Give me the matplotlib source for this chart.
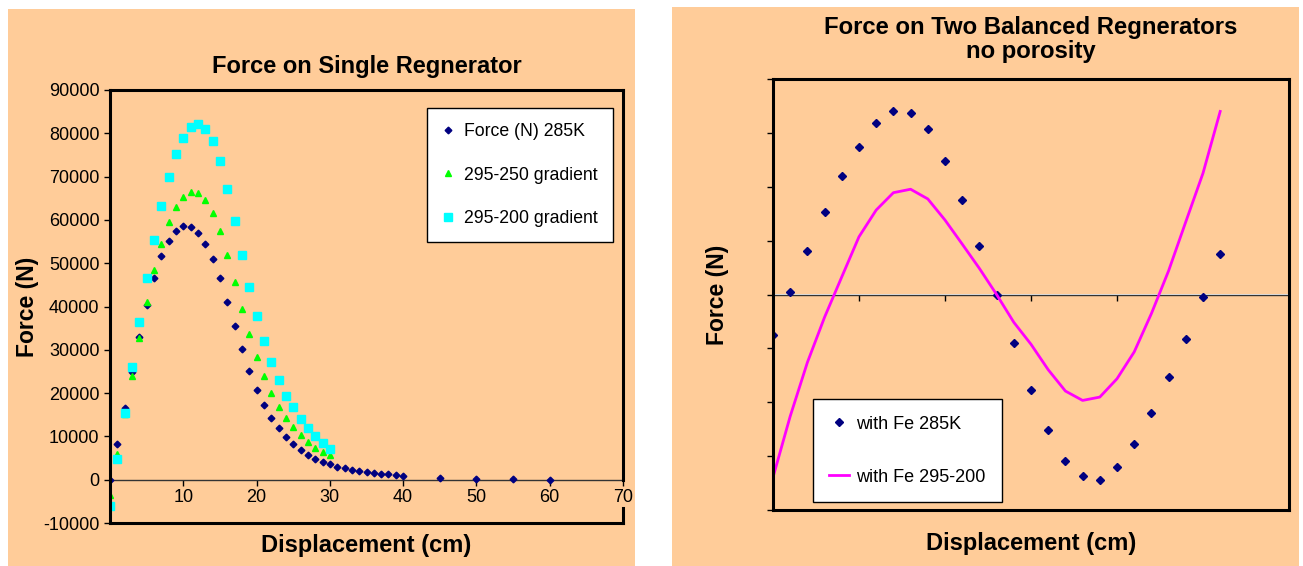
import numpy as np
import matplotlib
matplotlib.use("Agg")
from matplotlib import pyplot as plt
from matplotlib.patches import Rectangle
from matplotlib import transforms

plt.rcParams['font.family'] = ['Liberation Sans', 'DejaVu Sans']
plt.rcParams['axes.unicode_minus'] = False

#-------------left chart: single regenerator-------------
x_285 = list(range(0, 41)) + [45, 50, 55, 60]
f_285 = [0, 8200, 16600, 24900, 32900, 40300, 46600, 51600, 55200, 57500,
         58500, 58400, 57000, 54500, 51000, 46500, 41100, 35500, 30100, 25100,
         20800, 17250, 14300, 11900, 9860, 8170, 6860, 5700, 4850, 4160,
         3630, 3000, 2630, 2310, 2000, 1780, 1620, 1390, 1250, 1090,
         850, 390, 90, 90, 0]

x_grad = list(range(0, 31))
f_250 = [-3500, 5900, 15200, 24000, 32800, 41000, 48400, 54500, 59400, 63000,
         65400, 66500, 66100, 64600, 61600, 57400, 52000, 45700, 39500, 33700,
         28300, 23900, 20000, 16900, 14250, 12100, 10250, 8640, 7400, 6330,
         5630]
f_200 = [-6100, 4850, 15500, 26100, 36500, 46600, 55400, 63200, 70000, 75200,
         78900, 81500, 82100, 81000, 78300, 73700, 67200, 59800, 52000, 44600,
         37900, 32100, 27250, 23000, 19300, 16900, 14100, 12000, 10100, 8550,
         7160]

#-------------right chart: two balanced regenerators-------------
x_two = list(range(0, 53, 2))
f_fe285 = [-3790, 240, 4030, 7630, 11000, 13670, 15900, 17050, 16840, 15380,
           12430, 8740, 4470, 0, -4530, -8840, -12620, -15410, -16870, -17240,
           -15970, -13830, -11040, -7690, -4090, -190, 3720]
f_fe200 = [-16970, -11300, -6300, -2100, 1640, 5360, 7840, 9450, 9770, 8870,
           6910, 4680, 2420, 0, -2580, -4620, -6980, -8960, -9830, -9520,
           -7820, -5330, -1770, 2200, 6750, 11260, 16990]

BG = '#FFCC99'
W, H = 1303, 566
fig = plt.figure(figsize=(W / 100, H / 100), dpi=100)
fig.patch.set_facecolor('white')

# orange chart areas
fig.patches.append(Rectangle((8 / W, 0), 627 / W, 1 - 9 / H, transform=fig.transFigure,
                             facecolor=BG, edgecolor='none', zorder=-10))
fig.patches.append(Rectangle((672 / W, 0), 627 / W, 1 - 7 / H, transform=fig.transFigure,
                             facecolor=BG, edgecolor='none', zorder=-10))

FS = 13
BIG = 17

#------------left plot------------
ax1 = fig.add_axes([110 / W, 1 - 523 / H, 513 / W, 433 / H])
ax1.set_facecolor(BG)
ax1.plot(x_285, f_285, ls='none', marker='D', ms=3.4, color='#000080', label='Force (N) 285K')
ax1.plot(x_grad, f_250, ls='none', marker='^', ms=5, color='#00FF00', label='295-250 gradient')
ax1.plot(x_grad, f_200, ls='none', marker='s', ms=5.5, color='#00FFFF', label='295-200 gradient')
ax1.set_xlim(0, 70)
ax1.set_ylim(-10000, 90000)
ax1.set_yticks(np.arange(-10000, 90001, 10000))
ax1.tick_params(axis='y', labelsize=FS, direction='out', length=4, width=1)
ax1.tick_params(axis='x', bottom=False, labelbottom=False)
for s in ax1.spines.values():
    s.set_linewidth(2.2)
# right frame is broken where the "70" label sits
ax1.spines['right'].set_bounds(0, 90000)
trans1 = transforms.blended_transform_factory(ax1.transAxes, ax1.transData)
ax1.plot([1, 1], [-10000, -6500], transform=trans1, color='black', lw=2.2,
         clip_on=False, solid_capstyle='projecting')
ax1.axhline(0, color='#333333', lw=1, zorder=1)
sec1 = ax1.secondary_xaxis(0.1)
sec1.set_alignment('bottom')
sec1.set_xticks(range(10, 71, 10))
sec1.spines['bottom'].set_visible(False)
sec1.spines['top'].set_visible(False)
sec1.tick_params(labelsize=FS, direction='out', length=4, width=1, pad=3)
ax1.set_title('Force on Single Regnerator', fontsize=BIG, fontweight='bold', pad=12)
ax1.set_xlabel('Displacement (cm)', fontsize=BIG, fontweight='bold', labelpad=8)
ax1.set_ylabel('Force (N)', fontsize=16.5, fontweight='bold', labelpad=3)
leg1 = ax1.legend(loc='upper right', bbox_to_anchor=(0.9805, 0.958), fontsize=12.7,
                  frameon=True, fancybox=False, edgecolor='black', framealpha=1,
                  labelspacing=1.5, borderpad=0.85, handlelength=0.7, handletextpad=0.55,
                  borderaxespad=0)
leg1.get_frame().set_linewidth(1)

#------------right plot------------
ax2 = fig.add_axes([773 / W, 1 - 510 / H, 516 / W, 431 / H])
ax2.set_facecolor(BG)
ax2.plot(x_two, f_fe285, ls='none', marker='D', ms=4, color='#000080', label='with Fe 285K')
ax2.plot(x_two, f_fe200, color='#FF00FF', lw=2, label='with Fe 295-200')
ax2.set_xlim(0, 60)
ax2.set_ylim(-20000, 20000)
ax2.set_yticks(np.arange(-20000, 20001, 5000))
ax2.tick_params(axis='y', labelleft=False, direction='out', length=4, width=1)
ax2.tick_params(axis='x', bottom=False, labelbottom=False)
for s in ax2.spines.values():
    s.set_linewidth(2.2)
ax2.axhline(0, color='#333333', lw=1, zorder=1)
sec2 = ax2.secondary_xaxis(0.5)
sec2.set_alignment('bottom')
sec2.set_xticks(range(10, 61, 10))
sec2.set_xticklabels([])
sec2.spines['bottom'].set_visible(False)
sec2.spines['top'].set_visible(False)
sec2.tick_params(direction='out', length=4, width=1)
ax2.set_title('Force on Two Balanced Regnerators\nno porosity', fontsize=17.2,
              fontweight='bold', pad=15, linespacing=1.08)
ax2.set_xlabel('Displacement (cm)', fontsize=BIG, fontweight='bold', labelpad=16)
ax2.set_ylabel('Force (N)', fontsize=16.5, fontweight='bold', labelpad=28)
leg2 = ax2.legend(loc='lower left', bbox_to_anchor=(0.0775, 0.0186), fontsize=FS,
                  frameon=True, fancybox=False, edgecolor='black', framealpha=1,
                  labelspacing=2.0, borderpad=0.9, handlelength=1.1, handletextpad=0.4,
                  borderaxespad=0)
leg2.get_frame().set_linewidth(1)

fig.savefig('out.png', dpi=100)
